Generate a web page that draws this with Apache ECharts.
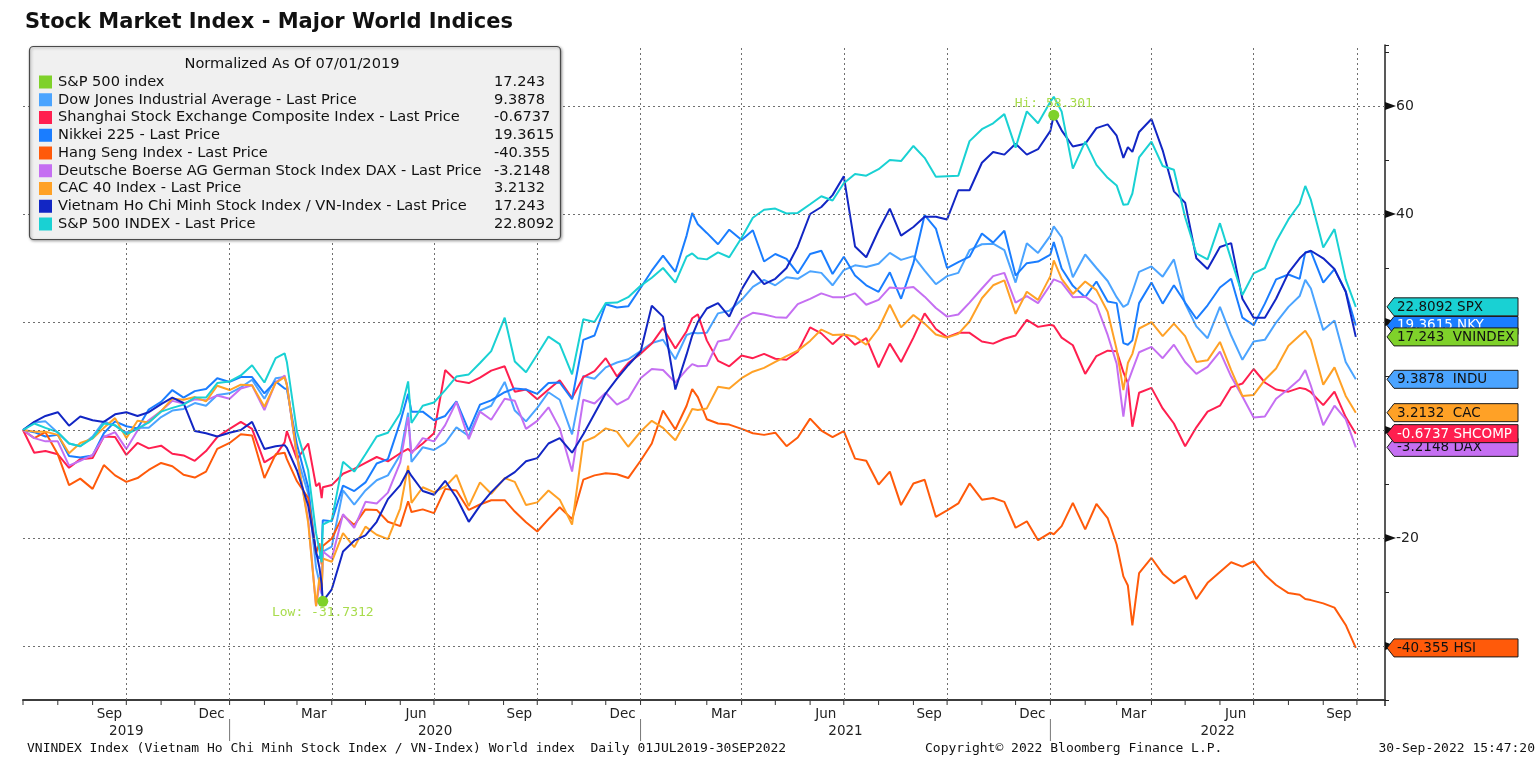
<!DOCTYPE html>
<html><head><meta charset="utf-8">
<script src="https://cdn.jsdelivr.net/npm/echarts@6/dist/echarts.min.js"></script>
<style>html,body{margin:0;padding:0;background:#fff}#c{width:1536px;height:764px}</style>
</head><body><div id="c"></div>
<script>
// ---------------- DATA ----------------
const dates = [
'2019-07-01','2019-07-11','2019-07-21','2019-08-01','2019-08-11','2019-08-21','2019-09-01','2019-09-11','2019-09-21','2019-10-01','2019-10-11','2019-10-21','2019-11-01','2019-11-11','2019-11-21','2019-12-01','2019-12-11','2019-12-21',
'2020-01-01','2020-01-11','2020-01-21','2020-02-01','2020-02-11','2020-02-19','2020-02-21','2020-03-01','2020-03-11','2020-03-18','2020-03-21','2020-03-23','2020-03-24','2020-04-01','2020-04-11','2020-04-21','2020-05-01','2020-05-11','2020-05-21','2020-06-01','2020-06-08','2020-06-11','2020-06-21','2020-07-01','2020-07-11','2020-07-21','2020-08-01','2020-08-11','2020-08-21','2020-09-02','2020-09-11','2020-09-21','2020-10-01','2020-10-11','2020-10-21','2020-11-01','2020-11-11','2020-11-21','2020-12-01','2020-12-11','2020-12-21',
'2021-01-01','2021-01-11','2021-01-21','2021-02-01','2021-02-11','2021-02-16','2021-02-21','2021-03-01','2021-03-11','2021-03-21','2021-04-01','2021-04-11','2021-04-21','2021-05-01','2021-05-11','2021-05-21','2021-06-01','2021-06-11','2021-06-21','2021-07-01','2021-07-11','2021-07-21','2021-08-01','2021-08-11','2021-08-21','2021-09-01','2021-09-11','2021-09-21','2021-10-01','2021-10-11','2021-10-21','2021-11-01','2021-11-11','2021-11-21','2021-12-01','2021-12-11','2021-12-21',
'2022-01-01','2022-01-04','2022-01-11','2022-01-21','2022-02-01','2022-02-11','2022-02-21','2022-03-01','2022-03-07','2022-03-11','2022-03-15','2022-03-21','2022-04-01','2022-04-11','2022-04-21','2022-05-01','2022-05-11','2022-05-21','2022-06-01','2022-06-11','2022-06-21','2022-07-01','2022-07-11','2022-07-21','2022-08-01','2022-08-11','2022-08-16','2022-08-21','2022-09-01','2022-09-11','2022-09-21','2022-09-30'
];

const spx = [
0,1.2,0.4,-0.4,-2.5,-3.0,-1.5,1.2,0.9,-0.8,0.2,1.4,3.4,4.1,4.7,6.0,6.0,8.7,
9.0,10.1,12.0,8.8,13.3,14.2,12.6,-0.3,-7.5,-19.1,-22.2,-24.5,-17.5,-16.7,-5.9,-7.7,-4.5,-1.2,-0.5,3.1,9.0,1.3,4.5,5.1,7.4,9.9,10.3,12.4,14.6,20.8,12.7,10.7,14.0,17.3,15.9,10.3,20.5,20.0,23.5,23.6,24.6,
26.7,28.2,30.0,27.3,32.1,32.7,31.8,31.6,32.9,32.0,35.6,39.3,40.8,41.0,40.1,40.2,41.8,43.3,42.5,45.7,47.4,47.1,48.3,50.0,49.8,52.6,50.4,46.9,47.0,47.1,53.5,55.7,56.8,58.5,52.3,59.0,56.8,
60.8,61.7,59.0,48.4,53.4,49.1,46.7,45.3,41.7,41.8,43.8,50.5,53.4,48.9,48.2,39.4,32.7,31.6,38.3,31.6,25.0,29.0,30.0,34.9,39.0,41.9,45.2,42.6,33.8,37.2,27.9,22.8092
];
const indu = [
0,1.4,1.6,-0.5,-2.5,-3.0,-1.2,1.6,0.8,-0.5,0.4,0.4,2.4,3.6,3.9,5.0,4.5,6.5,
6.8,7.9,9.3,5.8,9.6,9.8,8.5,-4.9,-11.8,-25.5,-28.2,-30.4,-22.5,-21.6,-11.2,-13.8,-11.2,-9.3,-8.4,-4.6,3.2,-5.9,-3.2,-3.7,-2.4,0.5,-1.1,3.6,4.5,8.9,3.6,1.6,4.1,7.0,5.6,-0.8,10.0,9.5,11.6,12.5,13.1,
14.6,16.1,16.7,13.1,17.6,18.0,17.9,18.0,21.6,22.1,24.1,26.5,27.8,26.8,28.3,28.0,29.4,29.1,26.8,29.6,30.5,30.2,30.8,32.8,31.5,32.2,29.5,27.0,28.5,29.1,33.3,34.4,34.5,33.3,27.3,34.6,32.8,
36.0,37.7,35.7,28.3,32.5,30.0,27.6,24.6,22.8,23.3,25.6,29.3,30.3,28.4,31.6,23.4,19.2,17.0,22.8,17.5,13.0,16.4,16.7,19.9,22.8,24.8,27.8,26.2,18.5,20.3,12.6,9.3878
];
const nky = [
0,-0.4,-1.2,-0.9,-4.8,-5.1,-4.7,-0.6,1.6,0.7,0.3,3.8,5.2,7.4,6.0,7.2,7.6,9.6,
8.9,9.8,9.8,6.8,9.0,7.7,7.6,-2.7,-10.6,-23.0,-23.8,-22.3,-16.7,-16.9,-10.3,-11.3,-9.7,-6.2,-5.4,1.5,6.7,3.4,3.4,1.8,2.6,5.3,-0.1,4.7,5.5,7.0,7.7,7.5,6.7,8.7,8.8,5.7,16.7,17.5,23.3,22.7,22.9,
26.3,29.5,32.3,29.3,36.0,40.2,38.1,36.5,34.4,37.1,35.2,37.0,31.2,32.6,31.7,29.0,32.6,33.2,28.9,32.1,28.6,26.8,25.6,29.2,24.3,30.9,39.8,37.3,30.0,31.1,32.1,36.4,34.7,36.9,28.6,30.9,31.2,
32.5,34.8,29.9,26.7,24.6,27.5,23.8,23.5,16.1,15.8,16.6,23.5,27.3,23.4,26.8,23.6,20.6,23.1,26.4,28.0,20.8,19.4,23.4,27.9,28.8,28.0,32.9,33.1,27.3,29.8,25.7,19.3615
];
const hsi = [
0,-1.5,-0.4,-4.5,-10.2,-9.0,-10.9,-6.5,-8.4,-9.6,-8.9,-7.4,-6.1,-6.7,-8.3,-8.8,-7.7,-3.5,
-2.4,-0.8,-1.0,-8.9,-4.5,-4.2,-5.4,-9.5,-12.6,-22.8,-21.0,-24.9,-21.5,-20.1,-15.8,-17.6,-14.7,-14.8,-17.0,-17.8,-13.2,-15.2,-14.7,-15.4,-10.9,-11.2,-14.8,-13.8,-13.0,-13.0,-15.1,-17.1,-18.8,-16.5,-14.3,-16.5,-9.2,-8.4,-8.0,-8.2,-8.9,
-5.7,-2.5,3.6,0.1,4.5,7.6,6.1,2.0,1.2,1.0,0.2,-0.6,-0.9,-0.5,-3.0,-1.4,2.1,-0.1,-1.3,-0.2,-5.3,-5.7,-10.1,-7.7,-13.9,-9.9,-9.2,-16.1,-14.9,-13.6,-9.9,-12.9,-12.6,-13.3,-18.1,-16.9,-20.4,
-19.0,-19.3,-17.8,-13.5,-18.4,-13.7,-16.3,-21.2,-27.1,-28.8,-36.2,-26.5,-23.7,-26.6,-28.4,-27.0,-31.3,-28.3,-26.3,-24.5,-25.3,-24.3,-26.8,-28.7,-30.2,-30.5,-31.3,-31.5,-32.1,-32.9,-36.1,-40.355
];
const dax = [
0,-1.5,-2.1,-2.1,-6.6,-5.7,-4.6,-1.3,-0.4,-3.5,-0.1,1.8,3.5,5.4,4.9,5.7,5.5,6.4,
5.8,7.7,8.3,3.7,8.8,10.1,8.4,-5.0,-16.6,-32.6,-28.7,-30.2,-22.5,-23.8,-15.6,-18.1,-13.3,-13.6,-11.6,-6.0,2.4,-4.4,-1.5,-2.1,0.9,5.2,-1.7,3.4,1.9,5.8,5.4,0.2,1.7,4.2,0.3,-7.7,5.6,4.9,6.9,4.7,5.8,
9.6,11.3,11.1,8.8,11.2,12.2,11.8,11.9,16.4,16.8,20.6,21.7,21.4,20.9,20.8,23.3,24.3,25.3,24.6,24.6,25.3,23.2,24.1,26.4,26.2,26.5,24.7,22.6,21.0,21.4,23.6,26.2,28.5,29.1,23.6,24.8,23.5,
26.9,27.9,27.3,24.6,24.7,23.2,17.6,12.3,2.5,8.8,11.1,14.4,15.4,13.3,15.8,12.6,10.4,11.7,14.5,9.9,6.2,2.3,2.5,5.8,7.6,9.4,11.1,8.2,0.9,4.5,2.0,-3.2148
];
const cac = [
0,-0.3,-0.3,-0.9,-4.3,-2.4,-1.6,0.4,2.2,-1.5,1.7,1.4,3.5,5.8,5.6,6.1,5.3,8.2,
7.4,8.4,8.3,4.3,8.7,9.8,8.3,-4.6,-17.2,-32.6,-27.3,-29.7,-23.8,-24.4,-19.1,-21.7,-17.9,-19.4,-20.2,-14.5,-6.6,-13.5,-10.6,-11.5,-10.5,-8.3,-14.1,-9.7,-11.8,-8.9,-9.6,-13.9,-13.4,-11.2,-12.9,-17.5,-2.2,-1.3,0.3,-0.3,-3.1,
-0.3,1.7,0.4,-1.9,1.8,3.9,3.7,4.0,8.0,7.7,9.6,10.8,11.5,12.6,13.7,14.7,16.5,18.6,17.6,17.7,17.3,15.8,18.8,23.2,19.0,21.3,19.7,17.7,17.1,17.8,20.1,24.4,26.8,27.7,21.5,25.6,24.1,
28.5,31.4,28.0,25.2,27.5,25.9,21.9,14.9,7.4,12.4,14.1,18.8,20.0,17.4,19.7,17.4,12.6,12.9,16.3,11.1,6.3,6.5,9.3,11.4,15.6,17.5,18.4,16.7,8.4,11.6,6.3,3.2132
];
const shcomp = [
0,-4.2,-3.9,-4.5,-7.0,-5.4,-5.2,-1.2,-1.3,-4.6,-2.4,-3.4,-2.9,-4.4,-4.7,-5.7,-3.9,-1.3,
0.2,1.5,0.2,-6.0,-4.7,-2.3,-0.2,-5.4,-2.5,-10.4,-9.8,-12.6,-10.6,-10.2,-8.1,-7.2,-6.1,-5.0,-5.8,-4.3,-3.5,-4.1,-2.5,-0.6,11.1,9.1,8.7,9.7,11.0,11.8,7.1,7.5,5.7,7.5,9.2,5.9,9.8,10.9,13.3,9.9,12.4,
14.1,16.0,18.9,15.1,18.3,20.7,21.4,16.6,12.8,11.8,13.8,13.3,14.1,13.2,13.0,14.5,19.0,17.9,15.9,17.8,15.8,17.0,11.6,16.0,12.6,17.1,21.6,18.7,17.2,18.0,18.0,16.4,16.0,16.9,17.5,20.4,19.1,
19.5,19.3,17.1,15.7,10.4,13.7,14.7,14.6,10.7,8.7,0.6,6.9,7.8,4.0,1.2,-3.0,0.5,3.4,4.5,7.9,8.6,11.3,8.8,7.5,7.1,7.8,7.6,7.0,4.6,7.1,2.4,-0.6737
];
const vnindex = [
0,1.5,2.6,3.3,0.8,2.5,1.8,1.5,2.9,3.3,2.6,3.3,4.8,6.0,5.0,-0.2,-0.6,-1.2,
-0.5,0.0,1.5,-3.5,-3.0,-2.8,-3.3,-7.5,-14.0,-22.5,-25.5,-28.5,-31.7312,-29.5,-22.5,-20.5,-19.5,-17.0,-12.8,-10.2,-7.5,-8.5,-11.3,-12.0,-9.4,-12.5,-17.0,-14.0,-11.5,-9.0,-7.8,-5.8,-5.2,-2.5,-1.5,-4.2,-0.8,3.0,6.8,9.5,12.0,
14.5,23.0,21.0,7.5,14.0,17.5,20.0,22.5,23.5,21.0,26.0,29.5,27.0,28.0,30.0,34.0,40.0,41.3,43.5,47.0,34.0,32.0,37.0,41.0,36.0,37.6,39.5,39.5,39.0,44.4,44.4,49.5,51.5,51.0,53.0,51.0,52.0,
55.4,58.301,55.5,52.5,53.0,55.9,56.6,54.5,50.4,52.4,51.5,55.2,57.6,51.8,44.2,42.1,31.8,29.8,33.9,34.6,24.3,20.8,20.8,24.3,29.1,31.8,32.8,33.2,31.8,29.8,25.6,17.243
];

const legendTitle = 'Normalized As Of 07/01/2019';
const legendNames = ['S&P 500 index','Dow Jones Industrial Average - Last Price','Shanghai Stock Exchange Composite Index - Last Price','Nikkei 225 - Last Price','Hang Seng Index - Last Price','Deutsche Boerse AG German Stock Index DAX - Last Price','CAC 40 Index - Last Price','Vietnam Ho Chi Minh Stock Index / VN-Index - Last Price','S&P 500 INDEX - Last Price'];
const legendValues = ['17.243','9.3878','-0.6737','19.3615','-40.355','-3.2148','3.2132','17.243','22.8092'];
const legendColors = ['#7fd12a','#4ba4ff','#ff1f4f','#1a7dff','#ff5a0a','#c56ff2','#ffa126','#1226c4','#19d1d3'];

const yTickValues = [60,40,20,0,-20,-40];
const quarterDates = ['2019-10-01','2020-01-01','2020-04-01','2020-07-01','2020-10-01','2021-01-01','2021-04-01','2021-07-01','2021-10-01','2022-01-01','2022-04-01','2022-07-01','2022-10-01'];
const monthLabelDates = ['2019-09-16','2019-12-16','2020-03-16','2020-06-15','2020-09-15','2020-12-16','2021-03-16','2021-06-15','2021-09-15','2021-12-16','2022-03-16','2022-06-15','2022-09-15'];
const monthLabelTexts = ['Sep','Dec','Mar','Jun','Sep','Dec','Mar','Jun','Sep','Dec','Mar','Jun','Sep'];
const yearLabels = ['2019','2020','2021','2022'];

const tagTicker = ['NKY','DAX','HSI','INDU','CAC','SHCOMP','SPX','VNINDEX'];
const tagText = ['19.3615 NKY','-3.2148 DAX','-40.355 HSI','9.3878  INDU','3.2132  CAC','-0.6737 SHCOMP','22.8092 SPX','17.243  VNINDEX'];
const tagColor = ['#1a7dff','#c56ff2','#ff5a0a','#4ba4ff','#ffa126','#ff1f4f','#19d1d3','#7fd12a'];
const tagTextColor = ['#ffffff','#111','#111','#111','#111','#ffffff','#111','#111'];

// ---------------- CHART ----------------
const SANS = '"DejaVu Sans", Verdana, sans-serif';
const MONO = '"DejaVu Sans Mono", monospace';
function ts(s){ const p = s.split('-').map(Number); return new Date(p[0], p[1]-1, p[2]).getTime(); }
function pairs(arr){ return dates.map((d,i)=>[ts(d), arr[i]]); }

const chart = echarts.init(document.getElementById('c'));
const mkLine = (name, arr, color, extra) => Object.assign({
  name, type:'line', data: pairs(arr), showSymbol:false, symbol:'none',
  lineStyle:{color, width:2}, itemStyle:{color}, z:2
}, extra||{});

const series = [
  mkLine('INDU', indu, legendColors[1], {markLine:{silent:true, symbol:['none','none'], label:{show:false},
      lineStyle:{type:[2,3], color:'#6f6f6f', width:1},
      data: yTickValues.map(v=>({yAxis:v})).concat(quarterDates.map(d=>({xAxis:ts(d)})))}}),
  mkLine('SHCOMP', shcomp, legendColors[2]),
  mkLine('NKY', nky, legendColors[3]),
  mkLine('HSI', hsi, legendColors[4]),
  mkLine('DAX', dax, legendColors[5]),
  mkLine('CAC', cac, legendColors[6]),
  mkLine('VNINDEX', vnindex, legendColors[7], {markPoint:{
      symbol:'circle', symbolSize:11, itemStyle:{color:'#7fd12a'},
      label:{show:true, color:'#a8dc4c', fontFamily:MONO, fontSize:13},
      data:[
        {type:'max', name:'Hi', label:{position:'top', distance:0, formatter:p=>'Hi: '+p.value}},
        {type:'min', name:'Low', label:{position:'bottom', distance:-1, formatter:p=>'Low: '+p.value}}
      ]}}),
  mkLine('SPX', spx, legendColors[8])
];

const option = {
  animation:false,
  backgroundColor:'#ffffff',
  grid:{left:23, right:151, top:45, bottom:64},
  xAxis:{type:'time', min:ts('2019-07-01'), max:ts('2022-10-26'),
    axisLine:{show:true, onZero:false, lineStyle:{color:'#3c3c3c', width:2}}, axisTick:{show:false},
    axisLabel:{show:false}, splitLine:{show:false}},
  yAxis:{type:'value', position:'right', min:-50, max:71.3, interval:10,
    axisLine:{show:true, lineStyle:{color:'#222', width:1.5}},
    axisTick:{show:true, length:4, lineStyle:{color:'#222'}},
    axisLabel:{show:true, margin:11, color:'#222', fontSize:14, fontFamily:SANS,
      formatter:v=> (Math.abs(v % 20) < 1e-9 ? String(v) : '')},
    splitLine:{show:false}},
  series
};
chart.setOption(option);

// ---------------- DECORATIONS ----------------
const G = [];
const lens = [spx,indu,nky,hsi,dax,cac,shcomp,vnindex].map(a=>a.length);
if (lens.some(l=>l!==dates.length)) {
  G.push({type:'text', x:600, y:300, style:{text:'LEN MISMATCH '+dates.length+' '+lens.join(','), fill:'red', font:'bold 20px sans-serif'}, z:200});
}
const yBottom = chart.convertToPixel({yAxisIndex:0}, -50);
const axisX = chart.convertToPixel({xAxisIndex:0}, ts('2022-10-26'));
const xPx = d => chart.convertToPixel({xAxisIndex:0}, ts(d));

// title
G.push({type:'text', x:25, y:23, style:{text:'Stock Market Index - Major World Indices', font:'bold 21px '+SANS, fill:'#111', verticalAlign:'middle'}, z:10});

// small tail of the y axis under the x axis
G.push({type:'line', shape:{x1:axisX,y1:yBottom,x2:axisX,y2:yBottom+6}, style:{stroke:'#222', lineWidth:1.5}, z:10});

// month ticks
for (let y=2019, m=7; y<2022 || (y===2022 && m<=10); ) {
  const x = xPx(y+'-'+String(m).padStart(2,'0')+'-01');
  G.push({type:'line', shape:{x1:x,y1:yBottom,x2:x,y2:yBottom+5}, style:{stroke:'#333', lineWidth:1}, z:10});
  m++; if (m>12){m=1;y++;}
}
// month labels
monthLabelDates.forEach((d,i)=>{
  G.push({type:'text', x:xPx(d), y:yBottom+14, style:{text:monthLabelTexts[i], font:'13.5px '+SANS, fill:'#222', align:'center', verticalAlign:'middle'}, z:10});
});
// year labels and separators
const axMin = ts('2019-07-01'), axMax = ts('2022-10-26');
yearLabels.forEach(yr=>{
  const a = Math.max(ts(yr+'-01-01'), axMin), b = Math.min(ts((+yr+1)+'-01-01'), axMax);
  const xa = chart.convertToPixel({xAxisIndex:0}, a), xb = chart.convertToPixel({xAxisIndex:0}, b);
  G.push({type:'text', x:(xa+xb)/2, y:yBottom+31, style:{text:yr, font:'13.5px '+SANS, fill:'#222', align:'center', verticalAlign:'middle'}, z:10});
  if (yr !== '2019') {
    G.push({type:'line', shape:{x1:xa,y1:yBottom+19,x2:xa,y2:yBottom+41}, style:{stroke:'#777', lineWidth:1}, z:10});
  }
});
// footer
G.push({type:'text', x:27, y:749, style:{text:'VNINDEX Index (Vietnam Ho Chi Minh Stock Index / VN-Index) World index  Daily 01JUL2019-30SEP2022', font:'13px '+MONO, fill:'#111', verticalAlign:'middle'}, z:10});
G.push({type:'text', x:925, y:749, style:{text:'Copyright\u00A9 2022 Bloomberg Finance L.P.', font:'13px '+MONO, fill:'#111', verticalAlign:'middle'}, z:10});
G.push({type:'text', x:1535, y:749, style:{text:'30-Sep-2022 15:47:20', font:'13px '+MONO, fill:'#111', align:'right', verticalAlign:'middle'}, z:10});

// y axis triangles
yTickValues.forEach(v=>{
  const y = chart.convertToPixel({yAxisIndex:0}, v);
  G.push({type:'polygon', shape:{points:[[axisX,y-4],[axisX+11,y],[axisX,y+4]]}, style:{fill:'#111'}, z:55});
});

// right-hand tags
const tagValues = [nky, dax, hsi, indu, cac, shcomp, spx, vnindex].map(a=>a[a.length-1]);
tagTicker.forEach((t,k)=>{
  const y = chart.convertToPixel({yAxisIndex:0}, tagValues[k]);
  const x0 = axisX+2, x1 = 1518;
  G.push({type:'polygon', shape:{points:[[x0,y],[x0+7,y-9],[x1,y-9],[x1,y+9],[x0+7,y+9]]}, style:{fill:tagColor[k], stroke:'#1a1a1a', lineWidth:1}, z:60+2*k});
  G.push({type:'text', x:x0+10, y:y+0.5, style:{text:tagText[k], font:'13.5px '+SANS, fill:tagTextColor[k], verticalAlign:'middle'}, z:61+2*k});
});

// legend box
const LF = '14.6px '+SANS;
G.push({type:'rect', shape:{x:29.5, y:46.5, width:531, height:193, r:4}, style:{fill:'#f0f0f0', stroke:'#4a4a4a', lineWidth:1.2, shadowBlur:3, shadowColor:'rgba(0,0,0,0.35)', shadowOffsetX:1, shadowOffsetY:1}, z:50});
G.push({type:'text', x:292, y:64, style:{text:legendTitle, font:LF, fill:'#111', align:'center', verticalAlign:'middle'}, z:51});
legendNames.forEach((n,i)=>{
  const y = 82 + i*17.75;
  G.push({type:'rect', shape:{x:39, y:y-6.5, width:13, height:13}, style:{fill:legendColors[i]}, z:51});
  G.push({type:'text', x:58, y:y, style:{text:n, font:LF, fill:'#111', verticalAlign:'middle'}, z:51});
  G.push({type:'text', x:494, y:y, style:{text:legendValues[i], font:LF, fill:'#111', verticalAlign:'middle'}, z:51});
});

chart.setOption({graphic: G});
</script>
</body></html>
